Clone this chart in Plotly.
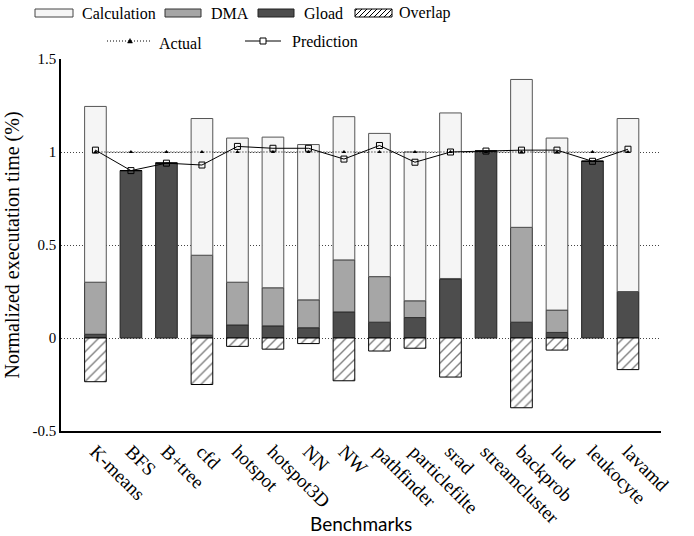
import plotly.graph_objects as go

categories = ["K-means", "BFS", "B+tree", "cfd", "hotspot", "hotspot3D", "NN", "NW",
              "pathfinder", "particlefilte", "srad", "streamcluster", "backprob", "lud",
              "leukocyte", "lavamd"]
gload = [0.02, 0.90, 0.94, 0.015, 0.07, 0.065, 0.055, 0.14, 0.085, 0.11, 0.315, 1.005, 0.085, 0.03, 0.95, 0.25]
dma = [0.28, 0.0, 0.0, 0.43, 0.23, 0.205, 0.15, 0.28, 0.245, 0.09, 0.005, 0.0, 0.51, 0.12, 0.0, 0.0]
calculation = [0.945, 0.0, 0.0, 0.735, 0.775, 0.81, 0.835, 0.77, 0.77, 0.80, 0.89, 0.0, 0.795, 0.925, 0.0, 0.93]
overlap = [-0.235, 0.0, 0.0, -0.25, -0.045, -0.06, -0.03, -0.23, -0.07, -0.055, -0.21, 0.0, -0.375, -0.065, 0.0, -0.17]
actual = [1.0] * 16
prediction = [1.01, 0.90, 0.94, 0.93, 1.03, 1.02, 1.02, 0.962, 1.035, 0.945, 1.0, 1.005, 1.01, 1.01, 0.95, 1.015]
yticks = [-0.5, 0, 0.5, 1, 1.5]
ytick_labels = ["-0.5", "0", "0.5", "1", "1.5"]

SERIF = "Liberation Serif"
SANS = "Lato"

W, H = 694, 536
ML, MR, MT, MB = 61, 33, 59, 105
PW, PH = W - ML - MR, H - MT - MB

C_CALC, C_DMA, C_GLOAD = "#f5f5f5", "#a6a6a6", "#4d4d4d"

fig = go.Figure()
fig.add_trace(go.Bar(x=categories, y=gload, name="Gload",
                     marker=dict(color=C_GLOAD, line=dict(color="#222222", width=1))))
fig.add_trace(go.Bar(x=categories, y=dma, name="DMA",
                     marker=dict(color=C_DMA, line=dict(color="#333333", width=1))))
fig.add_trace(go.Bar(x=categories, y=calculation, name="Calculation",
                     marker=dict(color=C_CALC, line=dict(color="#555555", width=1))))
fig.add_trace(go.Bar(x=categories, y=overlap, name="Overlap",
                     marker=dict(color="white", line=dict(color="black", width=1),
                                 pattern=dict(shape="/", fgcolor="black", bgcolor="white",
                                              size=7, solidity=0.2))))
fig.add_trace(go.Scatter(x=categories, y=actual, name="Actual", mode="lines+markers",
                         line=dict(color="black", width=1, dash="1px,2px"),
                         marker=dict(symbol="triangle-up", size=4, color="black")))
fig.add_trace(go.Scatter(x=categories, y=prediction, name="Prediction", mode="lines+markers",
                         line=dict(color="black", width=1),
                         marker=dict(symbol="square-open", size=6, color="black",
                                     line=dict(width=1))))
fig.update_traces(showlegend=False)


# ---- hand-drawn legend (pixel positions converted to paper coordinates) ----
def px(x):
    return (x - ML) / PW


def py(y):
    return (H - MB - y) / PH


shapes = []
annotations = []


def box(x0, x1, fill, line_color):
    shapes.append(dict(type="rect", xref="paper", yref="paper",
                       x0=px(x0), x1=px(x1), y0=py(17), y1=py(9),
                       fillcolor=fill, line=dict(color=line_color, width=1)))


def label(text, x, y):
    annotations.append(dict(text=text, x=px(x), y=py(y), xref="paper", yref="paper",
                            xanchor="left", yanchor="middle", showarrow=False,
                            font=dict(family=SERIF, size=16, color="black")))


box(35, 73, C_CALC, "#444444")
label("Calculation", 80, 13)
box(165, 201, C_DMA, "#333333")
label("DMA", 209, 13)
box(258, 294, C_GLOAD, "#222222")
label("Gload", 302, 13)
box(355, 392, "white", "black")
for x0 in range(349, 393, 5):
    t0, t1 = max(0, 355 - x0), min(8, 392 - x0)
    if t1 > t0:
        shapes.append(dict(type="line", xref="paper", yref="paper",
                           x0=px(x0 + t0), y0=py(17 - t0), x1=px(x0 + t1), y1=py(17 - t1),
                           line=dict(color="black", width=1)))
label("Overlap", 397, 13)

# Actual
shapes.append(dict(type="line", xref="paper", yref="paper", x0=px(107), x1=px(152),
                   y0=py(41), y1=py(41), line=dict(color="black", width=1, dash="1px,2px")))
shapes.append(dict(type="path", xref="paper", yref="paper",
                   path="M {} {} L {} {} L {} {} Z".format(px(127.5), py(43), px(132.5), py(43),
                                                            px(130), py(38.5)),
                   fillcolor="black", line=dict(color="black", width=0.5)))
label("Actual", 157, 43)
# Prediction
shapes.append(dict(type="line", xref="paper", yref="paper", x0=px(245), x1=px(281),
                   y0=py(41), y1=py(41), line=dict(color="black", width=1)))
shapes.append(dict(type="rect", xref="paper", yref="paper", x0=px(260), x1=px(266),
                   y0=py(44), y1=py(38), fillcolor="white", line=dict(color="black", width=1)))
label("Prediction", 290, 41)

annotations.append(dict(text="Benchmarks", x=0.5, y=py(523), xref="paper", yref="paper",
                        xanchor="center", yanchor="middle", showarrow=False,
                        font=dict(family=SANS, size=19, color="black")))

fig.update_layout(
    width=W, height=H,
    margin=dict(l=ML, r=MR, t=MT, b=MB, autoexpand=False),
    paper_bgcolor="white", plot_bgcolor="white",
    barmode="relative", bargap=0.39,
    showlegend=False,
    font=dict(family=SERIF, size=16, color="black"),
    xaxis=dict(range=[-0.97, 15.93], tickangle=45,
               tickfont=dict(family=SERIF, size=19, color="black"),
               showline=True, linecolor="black", linewidth=2, ticks="",
               showgrid=False, zeroline=False, automargin=False),
    yaxis=dict(range=[-0.5, 1.5], tickvals=yticks, ticktext=ytick_labels,
               tickfont=dict(family=SERIF, size=15, color="black"), automargin=False,
               showline=True, linecolor="black", linewidth=1.5, ticks="",
               showgrid=True, gridcolor="#444444", griddash="1px,2px", gridwidth=1,
               zeroline=False,
               title=dict(text="Normalized executation time (%)",
                          font=dict(family=SERIF, size=20, color="black"), standoff=8)),
    shapes=shapes,
    annotations=annotations,
)

fig.write_html("out.html", config={"displayModeBar": False},
               post_script="document.body.style.margin='0';")
